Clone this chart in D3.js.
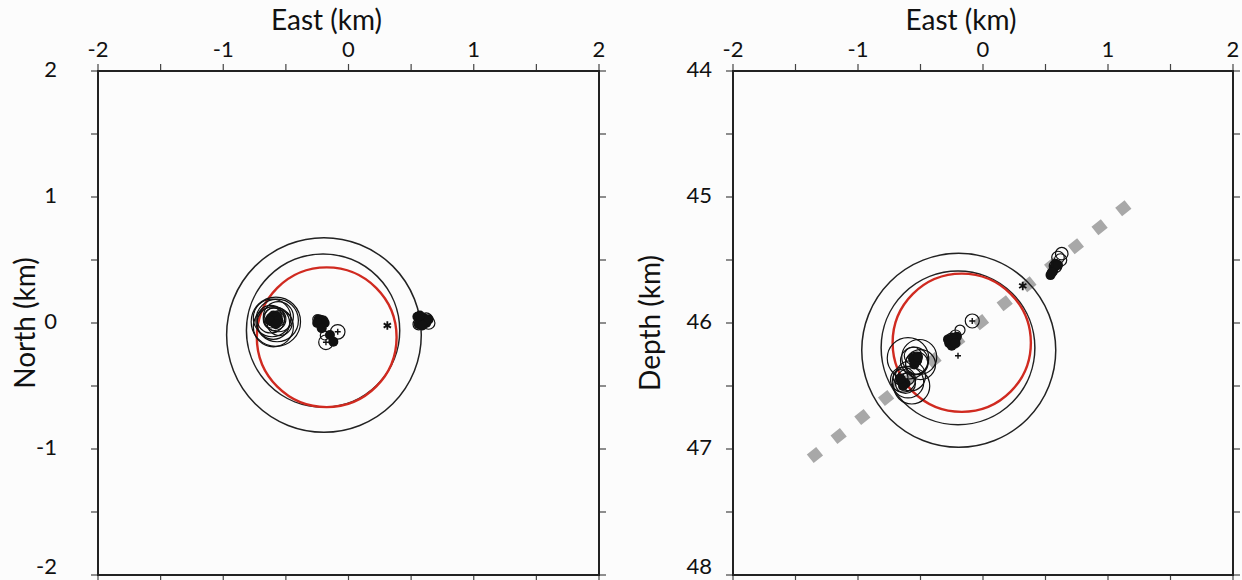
<!DOCTYPE html>
<html>
<head>
<meta charset="utf-8">
<script src="https://cdn.jsdelivr.net/npm/d3@7"></script>
<style>
  body { margin: 0; background: #fcfcfc; }
  svg { display: block; }
  text { font-family: Lato, "Noto Sans", sans-serif; fill: #111; }
</style>
</head>
<body>
<div id="chart"></div>
<script>
// axis ticks
const eastTicks = [-2, -1, 0, 1, 2];
const northTicks = [2, 1, 0, -1, -2];
const depthTicks = [44, 45, 46, 47, 48];

// large uncertainty circles [east, north or depth, radius km]
const mapRings = [[-0.196, -0.095, 0.777], [-0.203, -0.06, 0.612]];
const mapRedRing = [-0.174, -0.113, 0.558];
const sectionRings = [[-0.194, 46.217, 0.776], [-0.2, 46.197, 0.615]];
const sectionRedRing = [-0.17, 46.157, 0.553];

// event error circles in map view [east, north, radius km]
const mapCircles = [
  [-0.58, 0.01, 0.197], [-0.61, 0.04, 0.15], [-0.57, 0.02, 0.17], [-0.6, 0.0, 0.13],
  [-0.62, 0.03, 0.11], [-0.56, 0.05, 0.12], [-0.59, 0.03, 0.09], [-0.6, 0.05, 0.07],
  [-0.57, 0.03, 0.06], [-0.62, 0.01, 0.05], [-0.59, 0.02, 0.04], [-0.61, 0.04, 0.04],
  [-0.6, -0.03, 0.16], [-0.55, 0.0, 0.1],
  [-0.18, -0.153, 0.058], [-0.086, -0.07, 0.058], [-0.22, 0.02, 0.04], [-0.19, -0.1, 0.035],
  [-0.25, 0.03, 0.035],
  [0.58, 0.02, 0.05], [0.62, 0.03, 0.05], [0.56, -0.01, 0.045], [0.64, 0.0, 0.05]
];
// event locations in map view [east, north]
const mapDots = [
  [-0.62, 0.04], [-0.6, 0.06], [-0.58, 0.03], [-0.61, 0.01], [-0.57, 0.05], [-0.59, 0.0],
  [-0.56, 0.02], [-0.63, 0.02], [-0.58, -0.01],
  [-0.24, 0.03], [-0.2, 0.02], [-0.22, -0.01], [-0.19, 0.0], [-0.25, 0.0],
  [-0.214, -0.042], [-0.148, -0.095], [-0.121, -0.148],
  [0.55, 0.05], [0.58, 0.02], [0.6, 0.04], [0.56, -0.01], [0.62, 0.0], [0.64, 0.03],
  [0.59, -0.02], [0.57, 0.06]
];
const mapPlus = [[-0.18, -0.153], [-0.086, -0.07]];
const mapStar = [0.31, -0.02];

// event error circles in cross-section [east, depth, radius km]
const sectionCircles = [
  [-0.6, 46.28, 0.166], [-0.51, 46.27, 0.14], [-0.55, 46.3, 0.11], [-0.53, 46.32, 0.09],
  [-0.56, 46.26, 0.07], [-0.54, 46.29, 0.05], [-0.5, 46.33, 0.12],
  [-0.6, 46.47, 0.126], [-0.57, 46.5, 0.144], [-0.64, 46.45, 0.1], [-0.62, 46.48, 0.08],
  [-0.66, 46.43, 0.06], [-0.6, 46.44, 0.05], [-0.58, 46.42, 0.12],
  [-0.184, 46.056, 0.04], [-0.086, 45.984, 0.056], [-0.22, 46.1, 0.045], [-0.25, 46.13, 0.05],
  [0.6, 45.48, 0.05], [0.63, 45.45, 0.05], [0.62, 45.5, 0.05], [0.58, 45.55, 0.05]
];
// event locations in cross-section [east, depth]
const sectionDots = [
  [-0.56, 46.28], [-0.53, 46.3], [-0.55, 46.33], [-0.52, 46.27],
  [-0.65, 46.46], [-0.62, 46.48], [-0.64, 46.5], [-0.66, 46.44],
  [-0.27, 46.16], [-0.23, 46.13], [-0.25, 46.18], [-0.21, 46.11], [-0.24, 46.12],
  [-0.28, 46.13], [-0.22, 46.16],
  [0.54, 45.62], [0.56, 45.59], [0.57, 45.56], [0.58, 45.53], [0.6, 45.54], [0.55, 45.6]
];
const sectionPlus = [[-0.086, 45.984], [-0.2, 46.26]];
const sectionStar = [0.318, 45.706];
// fault trace guide
const faultLine = [[-1.382, 47.077], [1.16, 45.06]];

const width = 1242;
const height = 580;

const svg = d3
  .select("#chart")
  .append("svg")
  .attr("width", width)
  .attr("height", height);

svg.append("rect").attr("width", width).attr("height", height).attr("fill", "#fcfcfc");

const plotTop = 71;
const plotBottom = 575;

// left panel scales
const xMap = d3.scaleLinear().domain([-2, 2]).range([98, 599]);
const yMap = d3.scaleLinear().domain([-2, 2]).range([plotBottom, plotTop]);
// right panel scales
const xSec = d3.scaleLinear().domain([-2, 2]).range([733, 1233]);
const ySec = d3.scaleLinear().domain([44, 48]).range([plotTop, plotBottom]);

function drawFrame(x, y, yTicks, yLabel, yLabelX, yTextEnd) {
  const g = svg.append("g");
  const minorX = d3.range(-2, 2.01, 0.5);
  const yDom = y.domain();
  const minorY = d3.range(yDom[0], yDom[1] + 0.01, 0.5);
  const tickLen = 7;

  // ticks on all four sides, pointing out
  minorX.forEach((v) => {
    g.append("line").attr("x1", x(v)).attr("x2", x(v))
      .attr("y1", plotTop).attr("y2", plotTop - tickLen);
    g.append("line").attr("x1", x(v)).attr("x2", x(v))
      .attr("y1", plotBottom).attr("y2", plotBottom + tickLen);
  });
  minorY.forEach((v) => {
    g.append("line").attr("y1", y(v)).attr("y2", y(v))
      .attr("x1", x.range()[0]).attr("x2", x.range()[0] - tickLen);
    g.append("line").attr("y1", y(v)).attr("y2", y(v))
      .attr("x1", x.range()[1]).attr("x2", x.range()[1] + tickLen);
  });
  g.selectAll("line").attr("stroke", "#444").attr("stroke-width", 1.2);

  g.append("rect")
    .attr("x", x.range()[0]).attr("y", plotTop)
    .attr("width", x.range()[1] - x.range()[0]).attr("height", plotBottom - plotTop)
    .attr("fill", "none").attr("stroke", "#222").attr("stroke-width", 2);

  g.selectAll("text.xt").data(eastTicks).enter().append("text")
    .attr("class", "xt")
    .attr("x", (d) => x(d)).attr("y", 57)
    .attr("text-anchor", "middle").attr("font-size", 22)
    .text((d) => d);

  // bottom label kept inside the page edge
  g.selectAll("text.yt").data(yTicks).enter().append("text")
    .attr("class", "yt")
    .attr("x", yTextEnd).attr("y", (d) => Math.min(y(d) + 6, height - 6))
    .attr("text-anchor", "end").attr("font-size", 22)
    .text((d) => d);

  g.append("text")
    .attr("x", (x.range()[0] + x.range()[1]) / 2 - 22).attr("y", 30)
    .attr("text-anchor", "middle").attr("font-size", 28)
    .text("East (km)");

  g.append("text")
    .attr("transform", `translate(${yLabelX},${(plotTop + plotBottom) / 2}) rotate(-90)`)
    .attr("text-anchor", "middle").attr("font-size", 28)
    .text(yLabel);
}

function drawEvents(x, y, rings, redRing, circles, dots, plus, star) {
  const g = svg.append("g");
  const k = Math.abs(x(1) - x(0));

  g.selectAll("circle.ring").data(rings).enter().append("circle")
    .attr("class", "ring")
    .attr("cx", (d) => x(d[0])).attr("cy", (d) => y(d[1])).attr("r", (d) => d[2] * k)
    .attr("fill", "none").attr("stroke", "#222").attr("stroke-width", 1.5);

  g.append("circle")
    .attr("cx", x(redRing[0])).attr("cy", y(redRing[1])).attr("r", redRing[2] * k)
    .attr("fill", "none").attr("stroke", "#d02a20").attr("stroke-width", 2.4);

  g.selectAll("circle.ev").data(circles).enter().append("circle")
    .attr("class", "ev")
    .attr("cx", (d) => x(d[0])).attr("cy", (d) => y(d[1])).attr("r", (d) => d[2] * k)
    .attr("fill", "none").attr("stroke", "#111").attr("stroke-width", 1.2);

  g.selectAll("circle.dot").data(dots).enter().append("circle")
    .attr("class", "dot")
    .attr("cx", (d) => x(d[0])).attr("cy", (d) => y(d[1])).attr("r", 5)
    .attr("fill", "#111");

  plus.forEach((d) => {
    const px = x(d[0]);
    const py = y(d[1]);
    g.append("path")
      .attr("d", `M${px - 3},${py}H${px + 3}M${px},${py - 3}V${py + 3}`)
      .attr("stroke", "#111").attr("stroke-width", 1.4);
  });

  g.append("path")
    .attr("transform", `translate(${x(star[0])},${y(star[1])})`)
    .attr("d", d3.symbol(d3.symbolAsterisk, 50)())
    .attr("fill", "none").attr("stroke", "#111").attr("stroke-width", 1.8);
}

// left: map view
drawFrame(xMap, yMap, northTicks, "North (km)", 35, 57);
drawEvents(xMap, yMap, mapRings, mapRedRing, mapCircles, mapDots, mapPlus, mapStar);

// right: cross-section, dashed fault guide under the events
drawFrame(xSec, ySec, depthTicks, "Depth (km)", 660, 712);
const fx1 = xSec(faultLine[0][0]);
const fy1 = ySec(faultLine[0][1]);
const fx2 = xSec(faultLine[1][0]);
const fy2 = ySec(faultLine[1][1]);
const faultLen = Math.hypot(fx2 - fx1, fy2 - fy1);
const dashLen = 12;
const dashCount = 14;
const gapLen = (faultLen - dashCount * dashLen) / (dashCount - 1);
svg.append("line")
  .attr("x1", fx1).attr("y1", fy1).attr("x2", fx2).attr("y2", fy2)
  .attr("stroke", "#a8a8a8").attr("stroke-width", 11)
  .attr("stroke-dasharray", `${dashLen},${gapLen}`);
drawEvents(xSec, ySec, sectionRings, sectionRedRing, sectionCircles, sectionDots, sectionPlus, sectionStar);
</script>
</body>
</html>
